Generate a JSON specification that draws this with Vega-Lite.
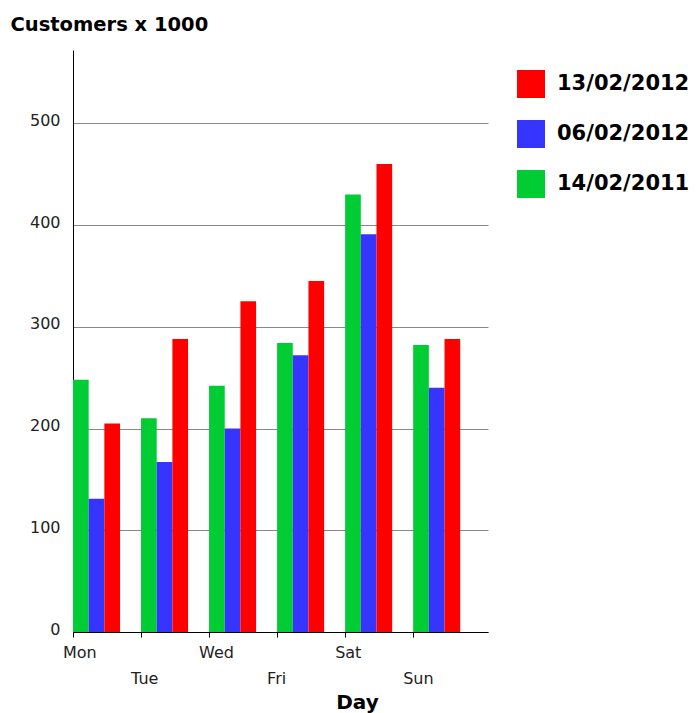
{
  "$schema": "https://vega.github.io/schema/vega-lite/v6.json",
  "width": 415,
  "height": 582,
  "autosize": {"type": "none"},
  "padding": {"left": 73, "top": 50, "right": 208, "bottom": 81},
  "background": "white",
  "config": {"view": {"stroke": null}, "font": "DejaVu Sans"},
  "data": {
    "values": [
      {"day": "Mon", "series": "14/02/2011", "value": 248},
      {"day": "Mon", "series": "06/02/2012", "value": 131},
      {"day": "Mon", "series": "13/02/2012", "value": 205},
      {"day": "Tue", "series": "14/02/2011", "value": 210},
      {"day": "Tue", "series": "06/02/2012", "value": 167},
      {"day": "Tue", "series": "13/02/2012", "value": 288},
      {"day": "Wed", "series": "14/02/2011", "value": 242},
      {"day": "Wed", "series": "06/02/2012", "value": 200},
      {"day": "Wed", "series": "13/02/2012", "value": 325},
      {"day": "Fri", "series": "14/02/2011", "value": 284},
      {"day": "Fri", "series": "06/02/2012", "value": 272},
      {"day": "Fri", "series": "13/02/2012", "value": 345},
      {"day": "Sat", "series": "14/02/2011", "value": 430},
      {"day": "Sat", "series": "06/02/2012", "value": 391},
      {"day": "Sat", "series": "13/02/2012", "value": 460},
      {"day": "Sun", "series": "14/02/2011", "value": 282},
      {"day": "Sun", "series": "06/02/2012", "value": 240},
      {"day": "Sun", "series": "13/02/2012", "value": 288}
    ]
  },
  "mark": {"type": "bar"},
  "encoding": {
    "x": {
      "field": "day",
      "type": "nominal",
      "sort": ["Mon", "Tue", "Wed", "Fri", "Sat", "Sun"],
      "scale": {"paddingInner": 0, "paddingOuter": 0.05, "align": 0},
      "axis": {
        "title": "Day",
        "bandPosition": 0,
        "labelAngle": 0,
        "labelAlign": "left",
        "labelOffset": -44,
        "labelDx": -10,
        "labelBaseline": "alphabetic",
        "labelPadding": 20,
        "tickSize": 5,
        "labelExpr": "(datum.value == 'Tue' || datum.value == 'Fri' || datum.value == 'Sun') ? ['', datum.label] : datum.label",
        "labelLineHeight": 26,
        "labelFontSize": 16,
        "labelColor": "#222",
        "labelOverlap": false,
        "labelBound": false,
        "domainColor": "#000",
        "tickColor": "#000",
        "titleFontSize": 20,
        "titleFontWeight": "bold",
        "titleX": 284,
        "titleY": 76,
        "titleBaseline": "alphabetic",
        "titleColor": "#000"
      }
    },
    "xOffset": {
      "field": "series",
      "type": "nominal",
      "scale": {"domain": ["14/02/2011", "06/02/2012", "13/02/2012"], "paddingInner": 0, "paddingOuter": 0.67, "align": 0}
    },
    "y": {
      "field": "value",
      "type": "quantitative",
      "scale": {"domain": [0, 572], "nice": false},
      "axis": {
        "title": "Customers x 1000",
        "titleAngle": 0,
        "titleAlign": "left",
        "titleX": -63,
        "titleY": -20,
        "titleBaseline": "alphabetic",
        "titleFontSize": 19.5,
        "titleFontWeight": "bold",
        "titleColor": "#000",
        "values": [0, 100, 200, 300, 400, 500],
        "tickSize": 0,
        "labelPadding": 13,
        "labelOffset": -3,
        "labelFontSize": 16,
        "labelColor": "#222",
        "grid": true,
        "gridColor": "#888",
        "domainColor": "#000"
      }
    },
    "color": {
      "field": "series",
      "type": "nominal",
      "scale": {"domain": ["13/02/2012", "06/02/2012", "14/02/2011"], "range": ["#ff0000", "#3535ff", "#00cc33"]},
      "legend": {
        "title": null,
        "orient": "none",
        "legendX": 444,
        "legendY": 20,
        "symbolType": "square",
        "symbolSize": 784,
        "symbolOpacity": 1,
        "symbolStrokeWidth": 0,
        "labelFontSize": 21,
        "labelFontWeight": "bold",
        "labelOffset": 12,
        "rowPadding": 22,
        "labelColor": "#000"
      }
    }
  }
}
